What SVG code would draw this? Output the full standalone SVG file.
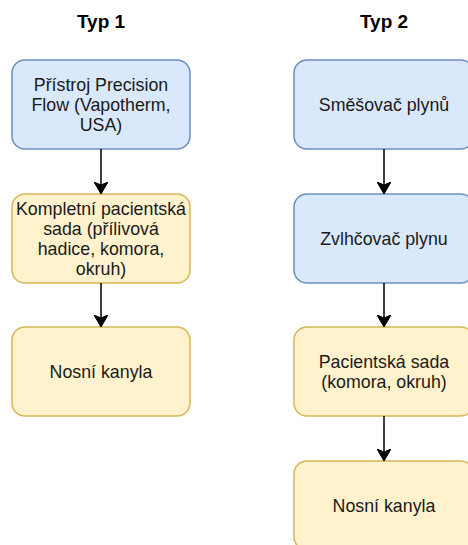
<svg xmlns="http://www.w3.org/2000/svg" width="468" height="545" viewBox="0 0 468 545">
  <style>
    .title { font-family: "Liberation Sans", Arial, sans-serif; font-size: 19px; font-weight: bold; fill: #000; text-anchor: middle; }
    .lbl { font-family: "Liberation Sans", Arial, sans-serif; font-size: 17.8px; fill: #1a1a1a; text-anchor: middle; }
    .blue { fill: #dae8fc; stroke: #6c8ebf; stroke-width: 1.5; }
    .yellow { fill: #fff2cc; stroke: #d6b656; stroke-width: 1.5; }
    .edge { fill: none; stroke: #000; stroke-width: 1.5; }
  </style>
  <defs>
    <marker id="arrow" viewBox="0 0 12 14" refX="11" refY="7" markerWidth="12" markerHeight="14" markerUnits="userSpaceOnUse" orient="auto">
      <path d="M0,0 L12,7 L0,14 L3,7 Z" fill="#000" stroke="#000" stroke-width="1"/>
    </marker>
  </defs>

  <rect width="468" height="545" fill="#fff"/>

  <text class="title" x="101" y="28">Typ 1</text>
  <text class="title" x="384" y="28">Typ 2</text>

  <!-- left column -->
  <g id="precision-flow">
    <rect class="blue" x="12" y="60" width="178" height="89" rx="13"/>
    <text class="lbl" x="101" y="91">Přístroj Precision</text>
    <text class="lbl" x="101" y="111">Flow (Vapotherm,</text>
    <text class="lbl" x="101" y="131">USA)</text>
  </g>
  <g id="kompletni-sada">
    <rect class="yellow" x="12" y="194" width="178" height="89" rx="13"/>
    <text class="lbl" x="101" y="215">Kompletní pacientská</text>
    <text class="lbl" x="101" y="235">sada (přílivová</text>
    <text class="lbl" x="101" y="255">hadice, komora,</text>
    <text class="lbl" x="101" y="275">okruh)</text>
  </g>
  <g id="nosni-kanyla-1">
    <rect class="yellow" x="12" y="327" width="178" height="89" rx="13"/>
    <text class="lbl" x="101" y="378">Nosní kanyla</text>
  </g>

  <!-- right column -->
  <g id="smesovac">
    <rect class="blue" x="294" y="60" width="180" height="89" rx="13"/>
    <text class="lbl" x="384" y="111">Směšovač plynů</text>
  </g>
  <g id="zvlhcovac">
    <rect class="blue" x="294" y="194" width="180" height="89" rx="13"/>
    <text class="lbl" x="384" y="245">Zvlhčovač plynu</text>
  </g>
  <g id="pacientska-sada">
    <rect class="yellow" x="294" y="327" width="180" height="89" rx="13"/>
    <text class="lbl" x="384" y="368">Pacientská sada</text>
    <text class="lbl" x="384" y="388">(komora, okruh)</text>
  </g>
  <g id="nosni-kanyla-2">
    <rect class="yellow" x="294" y="461" width="180" height="89" rx="13"/>
    <text class="lbl" x="384" y="512">Nosní kanyla</text>
  </g>

  <g id="connectors">
    <path class="edge" d="M101,149 V193" marker-end="url(#arrow)"/>
    <path class="edge" d="M101,283 V326" marker-end="url(#arrow)"/>
    <path class="edge" d="M384,149 V193" marker-end="url(#arrow)"/>
    <path class="edge" d="M384,283 V326" marker-end="url(#arrow)"/>
    <path class="edge" d="M384,416 V460" marker-end="url(#arrow)"/>
  </g>
</svg>
